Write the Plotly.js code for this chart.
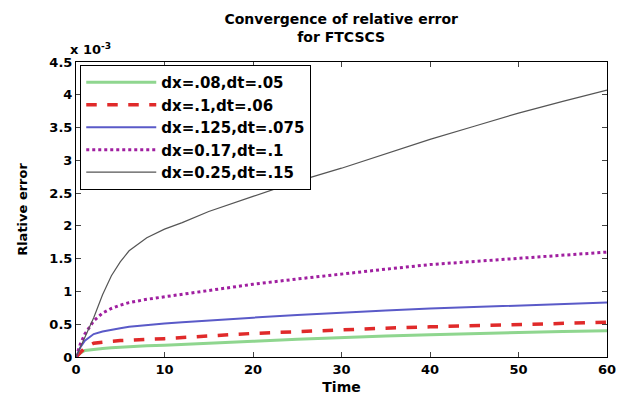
<!DOCTYPE html>
<html>
<head>
<meta charset="utf-8">
<script src="https://cdn.plot.ly/plotly-3.0.1.min.js"></script>
<style>html,body{margin:0;padding:0;background:#fff}#chart{width:617px;height:402px}</style>
</head>
<body>
<div id="chart"></div>
<script>
// time points
const time = [0, 0.5, 1, 2, 3, 4, 5, 6, 8, 10, 12, 15, 20, 25, 30, 35, 40, 45, 50, 55, 60];
// relative error values (x 10^-3)
const err_dx08 = [0, 0.06, 0.10, 0.12, 0.13, 0.14, 0.15, 0.16, 0.17, 0.18, 0.19, 0.21, 0.24, 0.27, 0.30, 0.32, 0.34, 0.36, 0.37, 0.39, 0.40];
const err_dx1 = [0, 0.08, 0.14, 0.21, 0.23, 0.24, 0.25, 0.26, 0.27, 0.28, 0.30, 0.32, 0.36, 0.39, 0.42, 0.44, 0.46, 0.48, 0.50, 0.51, 0.53];
const err_dx125 = [0, 0.15, 0.25, 0.35, 0.39, 0.42, 0.44, 0.46, 0.49, 0.51, 0.53, 0.56, 0.60, 0.64, 0.68, 0.71, 0.74, 0.76, 0.79, 0.81, 0.83];
const err_dx17 = [0, 0.20, 0.35, 0.55, 0.67, 0.74, 0.79, 0.83, 0.88, 0.92, 0.96, 1.01, 1.11, 1.19, 1.27, 1.34, 1.41, 1.46, 1.51, 1.56, 1.60];
const err_dx25 = [0, 0.15, 0.30, 0.60, 0.95, 1.24, 1.45, 1.62, 1.82, 1.95, 2.05, 2.22, 2.45, 2.68, 2.88, 3.10, 3.32, 3.52, 3.72, 3.90, 4.07];
const seriesNames = ["dx=.08,dt=.05", "dx=.1,dt=.06", "dx=.125,dt=.075", "dx=0.17,dt=.1", "dx=0.25,dt=.15"];
const yTicks = [0, 0.5, 1, 1.5, 2, 2.5, 3, 3.5, 4, 4.5];
const xTicks = [0, 10, 20, 30, 40, 50, 60];

const F = "DejaVu Sans, Verdana, sans-serif";
const traces = [
  {x: time, y: err_dx08, name: seriesNames[0], mode: "lines", line: {color: "#8fd68f", width: 3}},
  {x: time, y: err_dx1, name: seriesNames[1], mode: "lines", line: {color: "#e02a2a", width: 3.5, dash: "dash"}},
  {x: time, y: err_dx125, name: seriesNames[2], mode: "lines", line: {color: "#5a5ac8", width: 2}},
  {x: time, y: err_dx17, name: seriesNames[3], mode: "lines", line: {color: "#a01fa0", width: 3, dash: "dot"}},
  {x: time, y: err_dx25, name: seriesNames[4], mode: "lines", line: {color: "#555555", width: 1.2}}
];
const layout = {
  width: 617, height: 402,
  margin: {l: 76, r: 10, t: 62, b: 45},
  paper_bgcolor: "#fff", plot_bgcolor: "#fff",
  font: {family: F, color: "#000", size: 13, weight: "bold"},
  title: {text: "Convergence of relative error<br>for FTCSCS", x: 0.553, xanchor: "center", yref: "container", y: 0.94, yanchor: "middle",
          font: {family: F, size: 14, weight: "bold", color: "#000"}},
  showlegend: true,
  legend: {x: 0.008, y: 0.99, xanchor: "left", yanchor: "top", bordercolor: "#000", borderwidth: 1,
           bgcolor: "#fff", font: {family: F, size: 15, weight: "bold"}, tracegroupgap: 0, itemwidth: 70},
  xaxis: {range: [0, 60], tickvals: xTicks, ticks: "inside", ticklen: 5, showline: true, linecolor: "#000",
          mirror: "ticks", showgrid: false, zeroline: false,
          title: {text: "Time", font: {family: F, size: 14, weight: "bold"}, standoff: 6},
          tickfont: {family: F, size: 13, weight: "bold"}},
  yaxis: {range: [0, 4.5], tickvals: yTicks, ticks: "inside", ticklen: 5, showline: true, linecolor: "#000",
          mirror: "ticks", showgrid: false, zeroline: false,
          title: {text: "Rlative error", font: {family: F, size: 13, weight: "bold"}, standoff: 18},
          tickfont: {family: F, size: 13, weight: "bold"}},
  annotations: [{text: "x 10<sup>-3</sup>", xref: "paper", yref: "paper", x: -0.015, y: 1.01, xanchor: "left", yanchor: "bottom",
                 showarrow: false, font: {family: F, size: 13, weight: "bold"}}]
};
Plotly.newPlot("chart", traces, layout, {displayModeBar: false, staticPlot: true});
</script>
</body>
</html>
